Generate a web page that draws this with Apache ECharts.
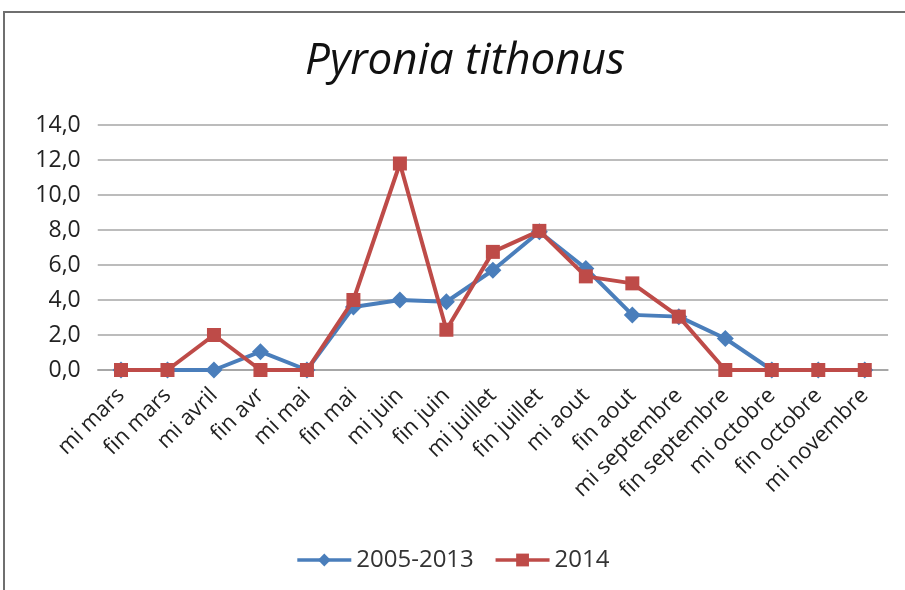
<!DOCTYPE html>
<html><head><meta charset="utf-8">
<script src="https://cdn.jsdelivr.net/npm/echarts@6/dist/echarts.min.js"></script>
<style>html,body{margin:0;padding:0;background:#fff}#c{width:905px;height:590px}</style>
</head><body><div id="c"></div>
<script>
const categories = ['mi mars','fin mars','mi avril','fin avr','mi mai','fin mai','mi juin','fin juin','mi juillet','fin juillet','mi aout','fin aout','mi septembre','fin septembre','mi octobre','fin octobre','mi novembre'];
const series2005_2013 = [0,0,0,1.05,0,3.6,4.0,3.9,5.7,7.9,5.8,3.15,3.05,1.8,0,0,0];
const series2014 = [0,0,2.0,0,0,4.0,11.8,2.3,6.75,7.95,5.35,4.95,3.05,0,0,0,0];
const yTicks = {min:0, max:14, interval:2};
const fontFam = '"Open Sans", "Liberation Sans", sans-serif';
const chart = echarts.init(document.getElementById('c'));
chart.setOption({
  animation:false,
  backgroundColor:'#fff',
  graphic:[{type:'rect',shape:{x:4,y:12,width:1000,height:1000},style:{fill:'none',stroke:'#6f6f6f',lineWidth:2},silent:true}],
  title:{text:'Pyronia tithonus',left:300,top:34,textStyle:{fontFamily:fontFam,fontStyle:'italic',fontWeight:'normal',fontSize:44,color:'#111'}},
  grid:{left:97.75,right:17,top:125,bottom:220},
  legend:{bottom:13,left:'center',itemWidth:54,itemHeight:16,itemGap:20,
    lineStyle:{width:3.5},
    textStyle:{fontFamily:fontFam,fontSize:24,color:'#333'},
    data:['2005-2013','2014']},
  xAxis:{type:'category',data:categories,boundaryGap:true,
    axisLine:{show:true,lineStyle:{color:'#a0a0a0',width:1.5}},axisTick:{show:false},
    axisLabel:{rotate:45,interval:0,margin:22,fontFamily:fontFam,fontSize:22,color:'#222'}},
  yAxis:{type:'value',min:yTicks.min,max:yTicks.max,interval:yTicks.interval,
    axisLine:{show:false},axisTick:{show:false},
    splitLine:{lineStyle:{color:'#a6a6a6',width:1.5}},
    axisLabel:{margin:17,fontFamily:fontFam,fontSize:23,color:'#222',formatter:v=>v.toFixed(1).replace('.',',')}},
  series:[
    {name:'2005-2013',type:'line',data:series2005_2013,symbol:'diamond',symbolSize:17,
      lineStyle:{color:'#4A7EBB',width:4},itemStyle:{color:'#4A7EBB'},z:2},
    {name:'2014',type:'line',data:series2014,symbol:'rect',symbolSize:14,
      lineStyle:{color:'#BE4B48',width:4},itemStyle:{color:'#BE4B48'},z:3}
  ]
});
</script></body></html>
